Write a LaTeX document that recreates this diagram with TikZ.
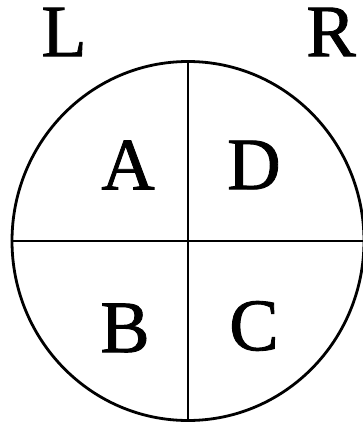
\documentclass[tikz,border=0pt]{standalone}
\usepackage{fontspec}
\setmainfont{Liberation Serif}
\newfontfamily\scanfont[FakeBold=1.2]{Liberation Serif}
\usetikzlibrary{shapes.geometric}

\begin{document}
\begin{tikzpicture}[x=1pt, y=-1pt,
        letter/.style={inner sep=0pt, font=\fontsize{74}{74}\scanfont},
        disc/.style={draw, ellipse, line width=2.8pt, inner sep=0pt, minimum width=352pt, minimum height=359pt}
    ]
        \useasboundingbox (0,0) rectangle (363,425);
        \node[disc] (o) at (188,241) {};
        \node[letter] (l) at (64,32) {L};
        \node[letter] (r) at (331,32) {R};
        \node[letter] (a) at (128,165) {A};
        \node[letter] (d) at (254,165) {D};
        \node[letter] (b) at (125,328) {B};
        \node[letter] (c) at (254,326) {C};

        \draw[line width=2.8pt] (o.north) -- (o.south);
        \draw[line width=2.8pt] (o.west) -- (o.east);
    \end{tikzpicture}
\end{document}
